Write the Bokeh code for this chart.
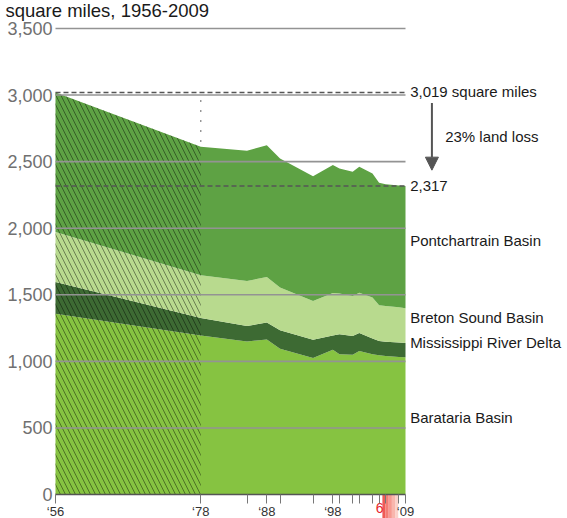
from bokeh.plotting import figure
from bokeh.models import (ColumnDataSource, FixedTicker, NumeralTickFormatter,
                          Arrow, NormalHead)
from bokeh.core.properties import value
from bokeh.embed import file_html
from bokeh.resources import INLINE

# ---------------- data ----------------
years = [1956, 1978, 1985, 1988, 1990, 1995, 1998, 1999, 2001, 2002, 2004, 2005, 2006, 2008, 2009]
barataria = [1358, 1195, 1150, 1165, 1095, 1025, 1088, 1053, 1050, 1078, 1053, 1045, 1040, 1032, 1030]
delta = [238, 131, 116, 126, 138, 138, 107, 150, 140, 135, 118, 108, 108, 109, 108]
breton = [376, 321, 338, 343, 321, 290, 319, 306, 301, 303, 308, 268, 268, 265, 260]
pontchartrain = [1047, 964, 977, 990, 970, 938, 960, 940, 933, 945, 932, 920, 915, 914, 919]

basin_names = ["Barataria Basin", "Mississippi River Delta", "Breton Sound Basin", "Pontchartrain Basin"]
basin_colors = ["#86c341", "#3d6a33", "#b8da8e", "#5ea244"]
label_y = [579, 1138, 1331, 1904]

estimated_years = [1956, 1978]
y_ticks = [0, 500, 1000, 1500, 2000, 2500, 3000, 3500]
x_tick_labels = {1956: "\u201856", 1978: "\u201878", 1988: "\u201888", 1998: "\u201898", 2009: "\u201809"}
highlight_span = [2005.5, 2007.9]
title_text = "square miles, 1956-2009"

totals = [a + b + c + d for a, b, c, d in zip(barataria, delta, breton, pontchartrain)]
start_total = totals[0]
end_total = totals[-1]
loss_pct = round((1 - end_total / start_total) * 100)

FONT = "Liberation Sans"
X_MIN, X_MAX = 1947.672, 2033.53
Y_MIN, Y_MAX = -180.26, 3710.3

source = ColumnDataSource(dict(years=years, barataria=barataria, delta=delta,
                               breton=breton, pontchartrain=pontchartrain))

p = figure(width=567, height=518, x_range=(X_MIN, X_MAX), y_range=(Y_MIN, Y_MAX),
           output_backend="svg", toolbar_location=None,
           min_border_left=0, min_border_right=0, min_border_top=0, min_border_bottom=0)
p.outline_line_color = None
p.grid.visible = False
p.background_fill_color = "white"
p.border_fill_color = "white"

# highlight band below the axis (gradient approximated by strips)
band_cols = ["#ef5b55", "#f37d75", "#f69a91", "#f9b6ad", "#fbd1ca"]
nb = len(band_cols)
w = (highlight_span[1] - highlight_span[0]) / nb
p.quad(left=[highlight_span[0] + i * w for i in range(nb)],
       right=[highlight_span[0] + (i + 1) * w for i in range(nb)],
       bottom=[Y_MIN] * nb, top=[0] * nb, fill_color=band_cols, line_color=None)

# stacked areas
p.varea_stack(stackers=["barataria", "delta", "breton", "pontchartrain"], x="years",
              color=basin_colors, source=source)

# hatched (estimated) region 1956-1978
n_est = len(estimated_years)
p.varea(x=estimated_years, y1=[0] * n_est, y2=totals[:n_est], fill_alpha=0,
        hatch_pattern="\\", hatch_color="black", hatch_alpha=0.42, hatch_scale=10, hatch_weight=1)

# dotted vertical marker at 1978
p.segment(x0=[estimated_years[-1]], y0=[2960], x1=[estimated_years[-1]], y1=[totals[1]],
          line_color="black", line_dash="1 9", line_width=1.2)

# grid lines (only over data span)
grid_vals = [v for v in y_ticks if v > 0]
p.segment(x0=[years[0]] * len(grid_vals), y0=grid_vals, x1=[years[-1]] * len(grid_vals), y1=grid_vals,
          line_color="#939393", line_width=1.6)

# dashed reference lines
p.segment(x0=[years[0], years[0]], y0=[start_total, end_total], x1=[years[-1], years[-1]],
          y1=[start_total, end_total], line_color="#555555", line_width=1.6, line_dash="5 3")

# arrow
p.add_layout(Arrow(end=NormalHead(size=13, fill_color="#555555", line_color="#555555"),
                   x_start=2013.0, y_start=2940, x_end=2013.0, y_end=2436,
                   line_color="#555555", line_width=2))

# title
p.text(x=[years[0]], y=[3638], text=[title_text], x_offset=-50,
       text_font=value(FONT), text_font_size="18.5px", text_baseline="alphabetic", text_color="#1a1a1a")

# right-side texts
p.text(x=[2009.7] * 2, y=[3030, 2316], text=[f"{start_total:,} square miles", f"{end_total:,}"],
       text_font=value(FONT), text_font_size="15px", text_baseline="middle", text_color="#1a1a1a")
p.text(x=[2015.0], y=[2686], text=[f"{loss_pct}% land loss"],
       text_font=value(FONT), text_font_size="15px", text_baseline="middle", text_color="#1a1a1a")
p.text(x=[2009.7] * 4, y=label_y, text=basin_names,
       text_font=value(FONT), text_font_size="15px", text_baseline="middle", text_color="#1a1a1a")

# red marker label under the highlight
p.text(x=[highlight_span[0] - 0.4], y=[0], text=["6"], text_font=value(FONT), text_font_size="14px",
       text_color="#e8242b", text_align="center", text_baseline="top", y_offset=9)

# axes
p.yaxis.fixed_location = years[0]
p.yaxis.ticker = FixedTicker(ticks=y_ticks)
p.yaxis.formatter = NumeralTickFormatter(format="0,0")
p.yaxis.axis_line_color = None
p.yaxis.major_tick_line_color = None
p.yaxis.major_tick_out = 0
p.yaxis.major_tick_in = 0
p.yaxis.minor_tick_line_color = None
p.yaxis.major_label_standoff = 3
p.yaxis.major_label_text_font = FONT
p.yaxis.major_label_text_font_size = "18px"
p.yaxis.major_label_text_color = "#707070"

p.xaxis.fixed_location = 0
p.xaxis.ticker = FixedTicker(ticks=years)
p.xaxis.major_label_overrides = {y: x_tick_labels.get(y, "") for y in years}
p.xaxis.bounds = (years[0], years[-1])
p.xaxis.axis_line_color = "#555555"
p.xaxis.axis_line_width = 1.5
p.xaxis.major_tick_line_color = "#777777"
p.xaxis.major_tick_out = 9
p.xaxis.major_tick_in = 0
p.xaxis.minor_tick_line_color = None
p.xaxis.major_label_standoff = 1
p.xaxis.major_label_text_font = FONT
p.xaxis.major_label_text_font_size = "13px"
p.xaxis.major_label_text_color = "#333333"

open("out.html", "w").write(file_html(p, INLINE))
